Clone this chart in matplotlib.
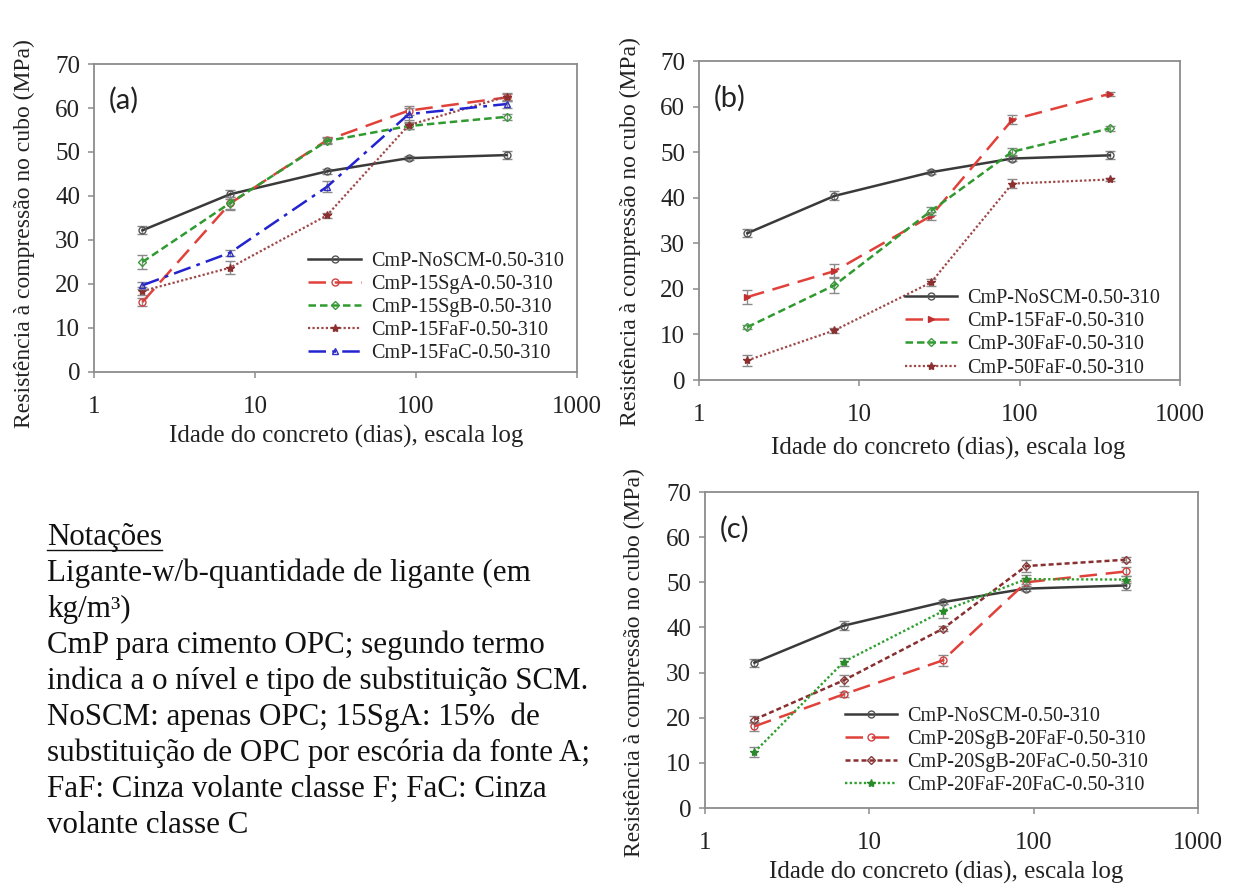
import matplotlib
matplotlib.use('Agg')
import matplotlib.pyplot as plt
from matplotlib.ticker import FixedLocator, FixedFormatter, NullLocator

plt.rcParams['font.family'] = ['Liberation Serif', 'DejaVu Serif']

W, H = 1235, 888

# ---------------- data ----------------
days = [2, 7, 28, 90, 365]

# panel (a)
a_labels = ['CmP-NoSCM-0.50-310', 'CmP-15SgA-0.50-310', 'CmP-15SgB-0.50-310',
            'CmP-15FaF-0.50-310', 'CmP-15FaC-0.50-310']
a_noscm = [32.2, 40.4, 45.6, 48.6, 49.3]
a_15sga = [15.9, 38.3, 52.7, 59.4, 62.4]
a_15sgb = [25.0, 38.4, 52.5, 55.9, 58.0]
a_15faf = [18.4, 23.7, 35.6, 56.1, 62.6]
a_15fac = [19.7, 27.1, 42.1, 58.6, 60.9]
a_err_noscm = [0.9, 1.0, 0.6, 0.5, 0.9]
a_err_15sga = [1.0, 1.5, 0.7, 1.0, 0.8]
a_err_15sgb = [1.6, 1.4, 0.6, 0.6, 0.7]
a_err_15faf = [1.0, 1.5, 0.5, 0.8, 0.8]
a_err_15fac = [0.8, 0.7, 1.2, 1.3, 0.8]

# panel (b)
b_labels = ['CmP-NoSCM-0.50-310', 'CmP-15FaF-0.50-310', 'CmP-30FaF-0.50-310',
            'CmP-50FaF-0.50-310']
b_noscm = [32.2, 40.4, 45.6, 48.6, 49.3]
b_15faf = [18.2, 23.9, 36.0, 57.1, 62.8]
b_30faf = [11.6, 20.8, 37.1, 50.1, 55.2]
b_50faf = [4.3, 10.9, 21.4, 43.1, 44.0]
b_err_noscm = [0.9, 1.0, 0.5, 0.5, 0.9]
b_err_15faf = [1.5, 1.6, 0.9, 1.0, 0.4]
b_err_30faf = [0.5, 1.8, 0.9, 0.8, 0.5]
b_err_50faf = [1.2, 0.5, 0.8, 1.0, 0.4]

# panel (c)
c_labels = ['CmP-NoSCM-0.50-310', 'CmP-20SgB-20FaF-0.50-310',
            'CmP-20SgB-20FaC-0.50-310', 'CmP-20FaF-20FaC-0.50-310']
c_noscm = [32.2, 40.4, 45.6, 48.6, 49.3]
c_sgb_faf = [18.1, 25.2, 32.7, 50.0, 52.4]
c_sgb_fac = [19.6, 28.3, 39.7, 53.6, 55.0]
c_faf_fac = [12.4, 32.4, 43.6, 50.7, 50.6]
c_err_noscm = [0.9, 1.0, 0.5, 0.5, 0.9]
c_err_sgb_faf = [1.0, 0.6, 1.2, 1.0, 1.0]
c_err_sgb_fac = [0.8, 1.2, 0.6, 1.3, 0.5]
c_err_faf_fac = [1.2, 0.9, 1.5, 1.0, 0.8]

x_ticks = [1, 10, 100, 1000]
x_ticklabels = ['1', '10', '100', '1000']
y_ticks = [0, 10, 20, 30, 40, 50, 60, 70]

ylabel = 'Resistência à compressão no cubo (MPa)'
xlabel = 'Idade do concreto (dias), escala log'

notes_title = 'Notações'
notes = ['Ligante-w/b-quantidade de ligante (em',
         'kg/m³)',
         'CmP para cimento OPC; segundo termo',
         'indica a o nível e tipo de substituição SCM.',
         'NoSCM: apenas OPC; 15SgA: 15%  de',
         'substituição de OPC por escória da fonte A;',
         'FaF: Cinza volante classe F; FaC: Cinza',
         'volante classe C']

# ---------------- styles ----------------
S_BLACK = dict(color='#3a3a3a', ls='-', lw=1.8, marker='o', mfc='none', mec='#555555', ms=5)
S_RED = dict(color='#e0413a', ls=(0, (7, 3.5)), lw=1.8, marker='o', mfc='none', mec='#d04040', ms=5)
S_RED_STAR = dict(color='#e0413a', ls=(0, (7, 3.5)), lw=1.8, marker='>', mfc='#c03030', mec='#c03030', ms=4)
S_GREEN = dict(color='#2f9a2f', ls=(0, (3, 1.6)), lw=1.8, marker='D', mfc='none', mec='#3a9a3a', ms=4.5)
S_BROWN = dict(color='#9e4848', ls=(0, (1, 1)), lw=1.6, marker='*', mfc='#8a3030', mec='#8a3030', ms=6)
S_BROWN_D = dict(color='#8a2f2f', ls=(0, (2, 1.2)), lw=1.8, marker='D', mfc='none', mec='#8a3a3a', ms=4.5)
S_GREEN_DOT = dict(color='#2fa02f', ls=(0, (1, 1)), lw=1.7, marker='*', mfc='#2a8a2a', mec='#2a8a2a', ms=6)
S_BLUE = dict(color='#2323d0', ls=(0, (7, 2.5, 1.5, 2.5)), lw=1.8, marker='^', mfc='none', mec='#3030c0', ms=5)

fig = plt.figure(figsize=(W / 100, H / 100), dpi=100)


def make_ax(l, r, t, b):
    return fig.add_axes([l / W, 1 - b / H, (r - l) / W, (b - t) / H])


def style_ax(ax, tag, ylab_xy, xlab_xy, leg_xy):
    ax.set_xscale('log')
    ax.set_xlim(1, 1000)
    ax.set_ylim(0, 70)
    ax.xaxis.set_major_locator(FixedLocator(x_ticks))
    ax.xaxis.set_major_formatter(FixedFormatter(x_ticklabels))
    ax.xaxis.set_minor_locator(NullLocator())
    ax.set_yticks(y_ticks)
    for s in ax.spines.values():
        s.set_color('#8c8c8c')
        s.set_linewidth(1.3)
    ax.tick_params(direction='out', length=4, width=1.1, color='#8c8c8c',
                   labelsize=18, labelcolor='#222222')
    ax.tick_params(axis='x', pad=13)
    ax.tick_params(axis='y', pad=6)
    ax.set_ylabel(ylabel, fontsize=17, color='#222222')
    ax.yaxis.set_label_coords(*ylab_xy)
    ax.set_xlabel(xlabel, fontsize=18, color='#222222')
    ax.xaxis.set_label_coords(*xlab_xy)
    ax.text(0.03, 0.925, tag, transform=ax.transAxes, fontsize=21,
            family=['Lato', 'DejaVu Sans'], color='#222222', va='top', ha='left')
    leg = ax.legend(loc='upper left', bbox_to_anchor=leg_xy, frameon=False,
                    fontsize=14.5, handlelength=2.6, handletextpad=0.5,
                    labelspacing=0.2, borderpad=0.0, borderaxespad=0.0)
    for t in leg.get_texts():
        t.set_color('#222222')


def plot_series(ax, y, err, label, style):
    ax.errorbar(days, y, yerr=err, fmt='none', ecolor='#8a8a8a', elinewidth=1.0,
                capsize=3.5, capthick=1.0)
    ax.plot(days, y, label=label, **style)


# panel (a)
ax_a = make_ax(94, 577, 64, 372)
plot_series(ax_a, a_noscm, a_err_noscm, a_labels[0], S_BLACK)
plot_series(ax_a, a_15sga, a_err_15sga, a_labels[1], S_RED)
plot_series(ax_a, a_15sgb, a_err_15sgb, a_labels[2], S_GREEN)
plot_series(ax_a, a_15faf, a_err_15faf, a_labels[3], S_BROWN)
plot_series(ax_a, a_15fac, a_err_15fac, a_labels[4], S_BLUE)
style_ax(ax_a, '(a)', (-0.123, 0.45), (0.522, -0.172), (0.444, 0.39))

# panel (b)
ax_b = make_ax(699, 1180, 61, 380)
plot_series(ax_b, b_noscm, b_err_noscm, b_labels[0], S_BLACK)
plot_series(ax_b, b_15faf, b_err_15faf, b_labels[1], S_RED_STAR)
plot_series(ax_b, b_30faf, b_err_30faf, b_labels[2], S_GREEN)
plot_series(ax_b, b_50faf, b_err_50faf, b_labels[3], S_BROWN)
style_ax(ax_b, '(b)', (-0.121, 0.464), (0.518, -0.179), (0.428, 0.285))

# panel (c)
ax_c = make_ax(705, 1198, 492, 808)
plot_series(ax_c, c_noscm, c_err_noscm, c_labels[0], S_BLACK)
plot_series(ax_c, c_sgb_faf, c_err_sgb_faf, c_labels[1], S_RED)
plot_series(ax_c, c_sgb_fac, c_err_sgb_fac, c_labels[2], S_BROWN_D)
plot_series(ax_c, c_faf_fac, c_err_faf_fac, c_labels[3], S_GREEN_DOT)
style_ax(ax_c, '(c)', (-0.122, 0.46), (0.49, -0.168), (0.284, 0.32))

# notation block
x0 = 47 / W
title = fig.text(x0, 1 - 537 / H, notes_title, fontsize=22.3, va='center', ha='left', color='#111111')
for i, line in enumerate(notes):
    fig.text(x0, 1 - (573 + i * 36) / H, line, fontsize=22.3, va='center', ha='left', color='#111111')

fig.canvas.draw()
bb = title.get_window_extent(fig.canvas.get_renderer())
uy = bb.y0 + 1
fig.add_artist(plt.Line2D([bb.x0 / W, bb.x1 / W], [uy / H, uy / H], color='#111111', lw=1.0,
                          transform=fig.transFigure))

fig.savefig('out.png', dpi=100)
